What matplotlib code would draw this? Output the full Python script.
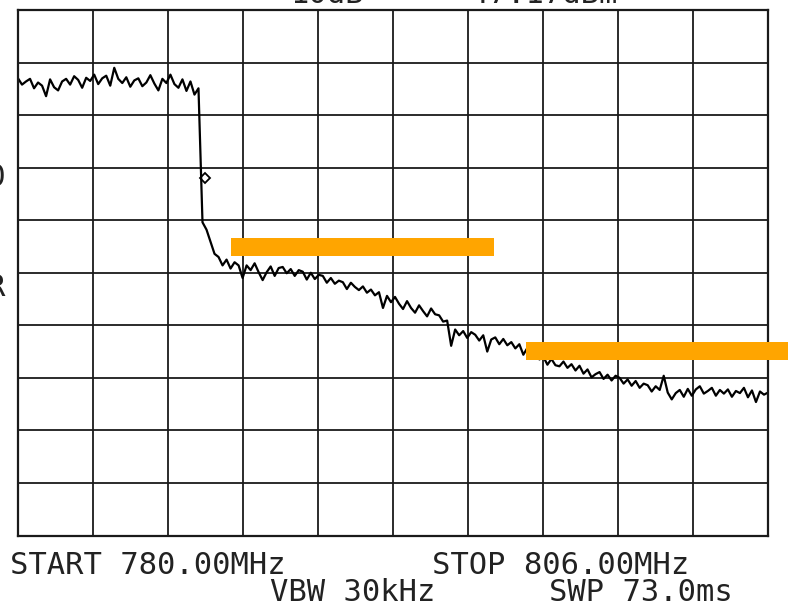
import numpy as np
import matplotlib
matplotlib.use('Agg')
import matplotlib.pyplot as plt

W, H = 789, 606

START_MHZ = 780.0
STOP_MHZ = 806.0
REF_DBM = 0.0
DB_PER_DIV = 10

# trace levels (dBm), one per sweep point
flat_part = [-13.0, -14.2, -13.6, -13.1, -14.9, -13.8, -14.4, -16.4, -13.2, -14.7,
             -15.3, -13.6, -13.1, -14.2, -12.6, -13.3, -14.8, -12.9, -13.5, -12.3,
             -14.1, -13.0, -12.5, -14.4, -11.0, -13.1, -13.9, -12.8, -14.6, -13.4,
             -13.0, -14.5, -13.8, -12.4, -14.0, -15.3, -13.1, -13.9, -12.3, -14.1,
             -14.8, -13.2, -15.4, -13.6, -16.1, -14.9]
skirt_part = [-40.4, -41.8, -44.1, -46.4, -47.0, -48.6, -47.5, -49.2, -48.0, -48.6,
              -51.0, -48.6, -49.5, -48.2, -49.9, -51.4, -49.9, -48.8, -50.6, -49.1,
              -48.9, -50.1, -49.3, -50.6, -49.5, -49.8, -51.3, -50.0, -51.2, -50.4,
              -50.6, -51.9, -51.0, -52.1, -51.5, -51.8, -53.1, -51.9, -52.7, -53.3,
              -52.6, -53.8, -53.2, -54.3, -53.7, -56.7, -54.4, -55.6, -54.6, -55.9,
              -56.9, -55.4, -56.7, -57.6, -56.2, -57.3, -58.3, -56.8, -57.9, -58.1,
              -59.3, -59.1, -63.9, -60.8, -61.9, -61.1, -62.4, -61.3, -61.8, -62.9,
              -61.9, -65.0, -62.7, -62.3, -63.6, -62.6, -63.8, -63.2, -64.4, -63.6,
              -65.6]
floor_part = [-64.3, -65.8, -65.2, -66.5, -66.0, -67.5, -66.4, -67.6, -67.8, -66.9,
              -68.1, -67.4, -68.6, -67.7, -69.2, -68.4, -69.9, -69.3, -68.9, -70.2,
              -69.4, -70.5, -69.6, -70.0, -71.1, -70.3, -71.5, -70.6, -71.9, -71.1,
              -71.4, -72.6, -71.6, -72.3, -69.6, -72.8, -74.1, -72.9, -72.3, -73.6,
              -72.1, -73.4, -72.2, -71.6, -73.0, -72.5, -71.9, -73.4, -72.3, -73.0,
              -72.2, -73.6, -72.5, -72.9, -71.9, -73.7, -72.4, -74.6, -72.6, -73.2,
              -72.8]

level = np.array(flat_part + skirt_part + floor_part)
freq = np.linspace(START_MHZ, STOP_MHZ, len(level))  # sweep points

# orange limit lines
limit_start = [787.4, 797.6]
limit_stop = [796.5, 806.7]
limit_level = [-45.1, -64.8]

# marker on the skirt
marker_freq = 786.48
marker_level = -32.0

fig = plt.figure(figsize=(W / 100, H / 100), dpi=100)
ax = fig.add_axes([18 / W, (H - 535.5) / H, 750 / W, 525.5 / H])

ax.set_xlim(START_MHZ, STOP_MHZ)
ax.set_ylim(REF_DBM - 10 * DB_PER_DIV, REF_DBM)
ax.set_xticks(np.linspace(START_MHZ, STOP_MHZ, 11))
ax.set_yticks(np.arange(REF_DBM - 10 * DB_PER_DIV, REF_DBM + 1, DB_PER_DIV))
ax.tick_params(length=0, labelbottom=False, labelleft=False)
ax.grid(color='#1a1a1a', lw=1.3)
ax.set_axisbelow(True)
for s in ax.spines.values():
    s.set_color('#1a1a1a')
    s.set_linewidth(1.6)

ax.plot(freq, level, color='black', lw=1.6, zorder=2)
ax.plot(marker_freq, marker_level, marker='D', ms=5, mfc='none', mec='black',
        mew=1.3, zorder=2)
ax.hlines(limit_level, limit_start, limit_stop, colors='#FFA500',
          linewidth=18 * 0.72, capstyle='butt', clip_on=False, zorder=3)

font = dict(family='DejaVu Sans Mono', size=22, color='#222222', va='baseline')


def px(x, y):
    return x / W, 1 - y / H


fig.text(*px(10, 574), 'START 780.00MHz', **font)
fig.text(*px(432, 574), 'STOP 806.00MHz', **font)
fig.text(*px(270, 601), 'VBW 30kHz', **font)
fig.text(*px(549, 601), 'SWP 73.0ms', **font)

# annotation cut off by the screenshot edges
fig.text(*px(290, 3), '10dB', **font)
fig.text(*px(453, 3), '-47.17dBm', **font)
fig.text(*px(6, 186), '10', ha='right', **font)
fig.text(*px(6, 296), 'CORR', ha='right', **font)

fig.savefig('out.png', dpi=100, facecolor='white')
